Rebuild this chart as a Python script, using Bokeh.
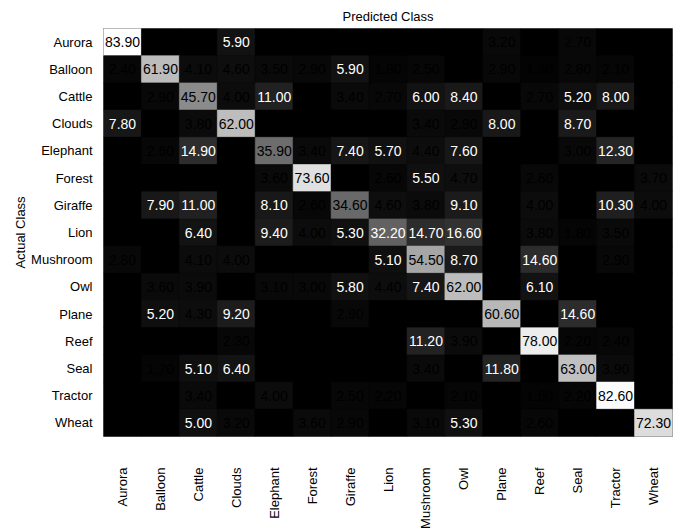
import math

from bokeh.core.properties import value
from bokeh.embed import file_html
from bokeh.models import ColumnDataSource, FactorRange, LinearColorMapper
from bokeh.plotting import figure
from bokeh.resources import INLINE

# Class names (rows = actual, columns = predicted)
classes = ["Aurora", "Balloon", "Cattle", "Clouds", "Elephant", "Forest", "Giraffe",
           "Lion", "Mushroom", "Owl", "Plane", "Reef", "Seal", "Tractor", "Wheat"]

# Per-class rates (%) in the order of `classes`
aurora   = [83.9, 0.0, 0.0, 5.9, 0.0, 0.0, 0.0, 0.0, 0.0, 0.0, 3.2, 0.0, 2.7, 0.0, 0.0]
balloon  = [2.4, 61.9, 4.1, 4.6, 3.5, 2.9, 5.9, 1.8, 2.5, 0.0, 2.9, 1.3, 2.8, 2.1, 0.0]
cattle   = [0.0, 2.9, 45.7, 4.0, 11.0, 0.0, 3.4, 2.7, 6.0, 8.4, 0.0, 2.7, 5.2, 8.0, 0.0]
clouds   = [7.8, 0.0, 3.8, 62.0, 0.0, 0.0, 0.0, 0.0, 3.4, 2.9, 8.0, 0.0, 8.7, 0.0, 0.0]
elephant = [0.0, 2.6, 14.9, 0.0, 35.9, 3.4, 7.4, 5.7, 4.4, 7.6, 0.0, 0.0, 3.0, 12.3, 0.0]
forest   = [0.0, 0.0, 0.0, 0.0, 3.6, 73.6, 0.0, 2.6, 5.5, 4.7, 0.0, 2.8, 0.0, 0.0, 3.7]
giraffe  = [0.0, 7.9, 11.0, 0.0, 8.1, 2.6, 34.6, 4.6, 3.8, 9.1, 0.0, 4.0, 0.0, 10.3, 4.0]
lion     = [0.0, 0.0, 6.4, 0.0, 9.4, 4.0, 5.3, 32.2, 14.7, 16.6, 0.0, 3.8, 1.8, 3.5, 0.0]
mushroom = [2.8, 0.0, 4.1, 4.0, 0.0, 0.0, 0.0, 5.1, 54.5, 8.7, 0.0, 14.6, 0.0, 2.9, 0.0]
owl      = [0.0, 3.6, 3.9, 0.0, 3.1, 3.0, 5.8, 4.4, 7.4, 62.0, 0.0, 6.1, 0.0, 0.0, 0.0]
plane    = [0.0, 5.2, 4.3, 9.2, 0.0, 0.0, 2.9, 0.0, 0.0, 0.0, 60.6, 0.0, 14.6, 0.0, 0.0]
reef     = [0.0, 0.0, 0.0, 2.3, 0.0, 0.0, 0.0, 0.0, 11.2, 3.9, 0.0, 78.0, 2.2, 2.4, 0.0]
seal     = [0.0, 1.7, 5.1, 6.4, 0.0, 0.0, 0.0, 0.0, 3.4, 0.0, 11.8, 0.0, 63.0, 3.9, 0.0]
tractor  = [0.0, 0.0, 3.4, 0.0, 4.0, 0.0, 2.5, 2.2, 0.0, 2.1, 0.0, 1.6, 2.2, 82.6, 0.0]
wheat    = [0.0, 0.0, 5.0, 3.2, 0.0, 3.6, 2.9, 0.0, 3.1, 5.3, 0.0, 2.6, 0.0, 0.0, 72.3]

rows = [aurora, balloon, cattle, clouds, elephant, forest, giraffe, lion,
        mushroom, owl, plane, reef, seal, tractor, wheat]

actual, predicted, rate, label, label_color = [], [], [], [], []
for a_name, row in zip(classes, rows):
    for p_name, v in zip(classes, row):
        actual.append(a_name)
        predicted.append(p_name)
        rate.append(v)
        label.append("%.2f" % v if v > 0 else "")
        # light text on mid-dark cells, dark text elsewhere
        label_color.append("white" if 5.0 <= v < 33.0 else "black")

source = ColumnDataSource(dict(actual=actual, predicted=predicted, rate=rate,
                               label=label, label_color=label_color))

grey_levels = ["#%02x%02x%02x" % (i, i, i) for i in range(256)]
mapper = LinearColorMapper(palette=grey_levels, low=0.0, high=max(rate))

FONT = "Liberation Sans"

p = figure(width=681, height=531,
           x_range=FactorRange(*classes),
           y_range=FactorRange(*reversed(classes)),
           output_backend="svg", toolbar_location=None,
           min_border_left=103, min_border_right=9,
           min_border_top=28, min_border_bottom=94,
           title="Predicted Class")

p.rect(x="predicted", y="actual", width=1, height=1, source=source,
       fill_color={"field": "rate", "transform": mapper},
       line_color={"field": "rate", "transform": mapper}, line_width=0.6)

p.text(x="predicted", y="actual", text="label", source=source,
       text_color="label_color", text_align="center", text_baseline="middle",
       text_font=value(FONT), text_font_size="14px")

p.background_fill_color = "black"
p.border_fill_color = "white"
p.outline_line_color = "#7f7f7f"
p.outline_line_width = 1
p.grid.visible = False

p.title.align = "center"
p.title.text_font = FONT
p.title.text_font_size = "13px"
p.title.text_font_style = "normal"
p.title.text_color = "black"
p.title.standoff = 10

for ax in (p.xaxis, p.yaxis):
    ax.axis_line_color = None
    ax.major_tick_line_color = None
    ax.minor_tick_line_color = None
    ax.major_label_text_font = FONT
    ax.major_label_text_font_size = "13px"
    ax.major_label_text_color = "black"

p.xaxis.major_label_orientation = math.pi / 2
p.xaxis.major_label_standoff = 25
p.yaxis.major_label_standoff = 5

p.yaxis.axis_label = "Actual Class"
p.yaxis.axis_label_text_font = FONT
p.yaxis.axis_label_text_font_size = "13px"
p.yaxis.axis_label_text_font_style = "normal"
p.yaxis.axis_label_text_color = "black"
p.yaxis.axis_label_standoff = 0

open("out.html", "w").write(file_html(p, INLINE))
